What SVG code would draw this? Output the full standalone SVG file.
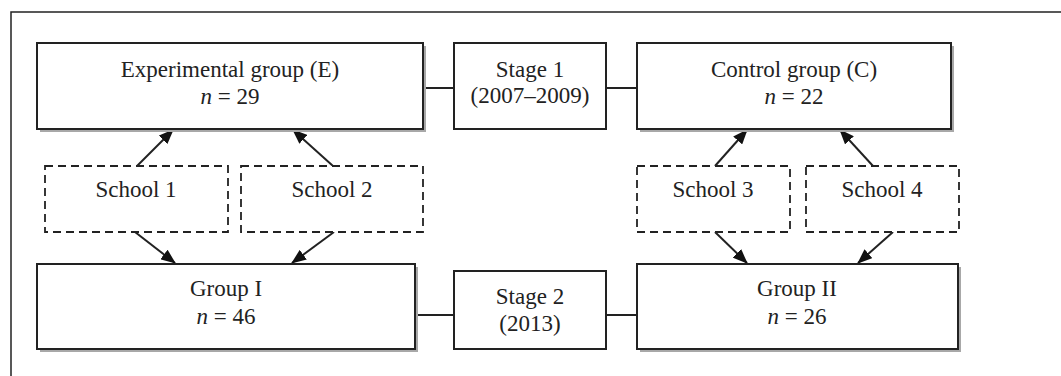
<svg xmlns="http://www.w3.org/2000/svg" width="1061" height="376" viewBox="0 0 1061 376">
<style>
.box{fill:#fff;stroke:#222;stroke-width:2}
.shadow{fill:#a8a8a8}
.dash{fill:#fff;stroke:#222;stroke-width:1.8;stroke-dasharray:8 5}
.t{font-family:"Liberation Serif","Times New Roman",serif;font-size:23px;fill:#222;text-anchor:middle}
.i{font-style:italic}
.c{stroke:#222;stroke-width:2;fill:none}
</style>
<defs>
<marker id="ah" markerWidth="15" markerHeight="12" refX="14" refY="6" orient="auto" markerUnits="userSpaceOnUse">
<path d="M0,0 L15,6 L0,12 Z" fill="#111"/>
</marker>
</defs>
<rect width="1061" height="376" fill="#fff"/>
<path d="M11,376 V12 H1061" fill="none" stroke="#222" stroke-width="1.5"/>

<g id="connectors">
<line class="c" x1="423" y1="88" x2="454" y2="88"/>
<line class="c" x1="606" y1="88" x2="637" y2="88"/>
<line class="c" x1="415" y1="315" x2="454" y2="315"/>
<line class="c" x1="606" y1="315" x2="637" y2="315"/>
<line class="c" x1="137" y1="166" x2="173" y2="130" marker-end="url(#ah)"/>
<line class="c" x1="333" y1="166" x2="293" y2="130" marker-end="url(#ah)"/>
<line class="c" x1="715" y1="166" x2="747" y2="130" marker-end="url(#ah)"/>
<line class="c" x1="873" y1="166" x2="840" y2="130" marker-end="url(#ah)"/>
<line class="c" x1="135" y1="232" x2="175" y2="263" marker-end="url(#ah)"/>
<line class="c" x1="334" y1="232" x2="292" y2="263" marker-end="url(#ah)"/>
<line class="c" x1="715" y1="232" x2="747" y2="263" marker-end="url(#ah)"/>
<line class="c" x1="893" y1="232" x2="858" y2="263" marker-end="url(#ah)"/>
</g>

<g id="exp">
<rect class="shadow" x="40" y="46" width="386" height="86"/>
<rect class="box" x="37" y="43" width="386" height="86"/>
<text class="t" x="230" y="77">Experimental group (E)</text>
<text class="t" x="230" y="104"><tspan class="i">n</tspan> = 29</text>
</g>

<g id="stage1">
<rect class="box" x="454" y="43" width="152" height="86"/>
<text class="t" x="530" y="77">Stage 1</text>
<text class="t" x="530" y="103">(2007–2009)</text>
</g>

<g id="control">
<rect class="shadow" x="640" y="46" width="314" height="86"/>
<rect class="box" x="637" y="43" width="314" height="86"/>
<text class="t" x="794" y="77">Control group (C)</text>
<text class="t" x="794" y="104"><tspan class="i">n</tspan> = 22</text>
</g>

<g id="school1">
<rect class="dash" x="45" y="166" width="183" height="66"/>
<text class="t" x="136" y="197">School 1</text>
</g>
<g id="school2">
<rect class="dash" x="241" y="166" width="182" height="66"/>
<text class="t" x="332" y="197">School 2</text>
</g>
<g id="school3">
<rect class="dash" x="637" y="166" width="153" height="66"/>
<text class="t" x="713" y="197">School 3</text>
</g>
<g id="school4">
<rect class="dash" x="806" y="166" width="153" height="66"/>
<text class="t" x="882" y="197">School 4</text>
</g>

<g id="group1">
<rect class="shadow" x="40" y="267" width="378" height="85"/>
<rect class="box" x="37" y="264" width="378" height="85"/>
<text class="t" x="226" y="296">Group I</text>
<text class="t" x="226" y="324"><tspan class="i">n</tspan> = 46</text>
</g>

<g id="stage2">
<rect class="box" x="454" y="271" width="152" height="78"/>
<text class="t" x="530" y="304">Stage 2</text>
<text class="t" x="530" y="331">(2013)</text>
</g>

<g id="group2">
<rect class="shadow" x="640" y="267" width="321" height="85"/>
<rect class="box" x="637" y="264" width="321" height="85"/>
<text class="t" x="797" y="296">Group II</text>
<text class="t" x="797" y="324"><tspan class="i">n</tspan> = 26</text>
</g>
</svg>
